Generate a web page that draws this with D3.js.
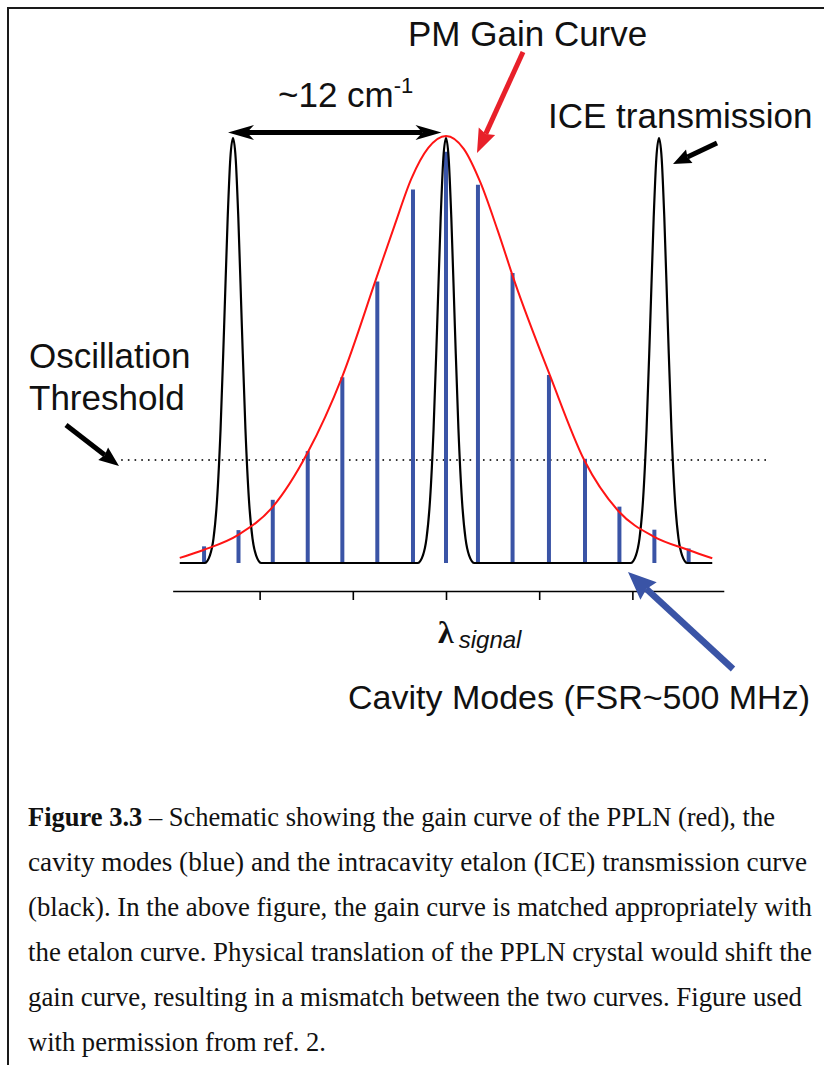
<!DOCTYPE html>
<html>
<head>
<meta charset="utf-8">
<script src="https://cdn.jsdelivr.net/npm/d3@7"></script>
<style>
  html, body { margin: 0; padding: 0; background: #fff; }
  svg { display: block; }
</style>
</head>
<body>
<svg id="fig" width="824" height="1065"></svg>
<script>
// Relative wavenumber (cm^-1) measured from the signal wavelength; heights are relative gain.

// PM gain curve of the PPLN
const gainX = [-15, -13.7, -11.7, -9.75, -7.8, -5.85, -3.9, -2.9, -1.95, -1, 0, 1, 1.95, 2.9, 3.9, 5.85, 7.8, 9.75, 11.7, 13.7, 15];
const gainY = [0.012, 0.03, 0.066, 0.132, 0.258, 0.436, 0.67, 0.79, 0.9, 0.972, 1.0, 0.97, 0.89, 0.78, 0.655, 0.44, 0.24, 0.12, 0.062, 0.03, 0.011];

// Cavity modes
const modeX = [-13.63, -11.69, -9.76, -7.79, -5.84, -3.87, -1.86, 0, 1.8, 3.75, 5.8, 7.83, 9.77, 11.74, 13.67];
const modeH = [0.039, 0.077, 0.148, 0.262, 0.435, 0.659, 0.875, 0.963, 0.886, 0.679, 0.44, 0.244, 0.132, 0.078, 0.034];

// Intracavity etalon transmission (three orders, ~12 cm^-1 apart)
const iceX = [-15, -13.6, -13.3, -13.1, -12.9, -12.7, -12.5, -12.3, -12.15, -12, -11.85, -11.7, -11.5, -11.3, -11.1, -10.9, -10.7, -10.4,
              -1.6, -1.3, -1.1, -0.9, -0.7, -0.5, -0.3, -0.15, 0, 0.15, 0.3, 0.5, 0.7, 0.9, 1.1, 1.3, 1.6,
              10.4, 10.7, 10.9, 11.1, 11.3, 11.5, 11.7, 11.85, 12, 12.15, 12.3, 12.5, 12.7, 12.9, 13.1, 13.3, 13.6, 15];
const iceY = [0, 0, 0.018, 0.057, 0.147, 0.314, 0.554, 0.808, 0.948, 0.995, 0.948, 0.808, 0.554, 0.314, 0.147, 0.057, 0.018, 0,
              0, 0.018, 0.057, 0.147, 0.314, 0.554, 0.808, 0.948, 0.995, 0.948, 0.808, 0.554, 0.314, 0.147, 0.057, 0.018, 0,
              0, 0.018, 0.057, 0.147, 0.314, 0.554, 0.808, 0.948, 0.995, 0.948, 0.808, 0.554, 0.314, 0.147, 0.057, 0.018, 0, 0];

// Oscillation threshold level and its drawn extent
const thresholdLevel = 0.241;
const thresholdSpan = [-18.3, 18.25];

// Wavelength axis
const axisSpan = [-15.4, 15.65];
const axisTicks = [-10.5, -5.25, 0, 5.25, 10.5];

// Caption: text runs (bold flag) and the width each set line occupies
const captionLines = [
  [["Figure 3.3", true], [" \u2013 Schematic showing the gain curve of the PPLN (red), the", false]],
  [["cavity modes (blue) and the intracavity etalon (ICE) transmission curve", false]],
  [["(black). In the above figure, the gain curve is matched appropriately with", false]],
  [["the etalon curve. Physical translation of the PPLN crystal would shift the", false]],
  [["gain curve, resulting in a mismatch between the two curves. Figure used", false]],
  [["with permission from ref. 2.", false]]
];
const captionWidths = [747, 779, 784, 784, 774, 298];

const RED = "#ff1414", BLUE = "#3a54a6", INK = "#000";
const SANS = "'Liberation Sans', Arial, Helvetica, sans-serif";
const SERIF = "'Liberation Serif', 'Times New Roman', serif";

const svg = d3.select("#fig");
const x = d3.scaleLinear().domain([-15, 15]).range([179.75, 712.25]);
const y = d3.scaleLinear().domain([0, 1]).range([563, 136]);

// page frame
svg.append("path")
  .attr("d", "M8,1065 V8 H824")
  .attr("fill", "none").attr("stroke", "#1a1a1a").attr("stroke-width", 2);

// axis
const axisScale = x.copy().domain(axisSpan).range(axisSpan.map(x));
const axisG = svg.append("g")
  .attr("transform", "translate(0,591)")
  .call(d3.axisBottom(axisScale).tickValues(axisTicks).tickFormat("").tickSizeInner(9).tickSizeOuter(0));
axisG.select(".domain").attr("stroke", INK).attr("stroke-width", 1.6);
axisG.selectAll(".tick line").attr("stroke", INK).attr("stroke-width", 1.6);

// threshold
svg.append("line")
  .attr("x1", x(thresholdSpan[0])).attr("x2", x(thresholdSpan[1]))
  .attr("y1", y(thresholdLevel)).attr("y2", y(thresholdLevel))
  .attr("stroke", "#333").attr("stroke-width", 2)
  .attr("stroke-dasharray", "1.6 5.1");

// cavity modes
svg.append("g").selectAll("line")
  .data(modeX.map((v, i) => ({ x: v, h: modeH[i] })))
  .join("line")
  .attr("x1", d => x(d.x)).attr("x2", d => x(d.x))
  .attr("y1", y(0)).attr("y2", d => y(d.h))
  .attr("stroke", BLUE).attr("stroke-width", 4);

// etalon transmission
const line = d3.line().x(d => x(d[0])).y(d => y(d[1])).curve(d3.curveMonotoneX);
svg.append("path")
  .attr("d", line(iceX.map((v, i) => [v, iceY[i]])))
  .attr("fill", "none").attr("stroke", INK).attr("stroke-width", 2.2);

// gain curve
svg.append("path")
  .attr("d", line(gainX.map((v, i) => [v, gainY[i]])))
  .attr("fill", "none").attr("stroke", RED).attr("stroke-width", 2);

// arrow helper: shaft plus a notched triangular head at (x2, y2)
function arrowHead(g, x1, y1, x2, y2, color, len, halfW, notch) {
  const a = Math.atan2(y2 - y1, x2 - x1);
  const ux = Math.cos(a), uy = Math.sin(a), px = -uy, py = ux;
  const bx = x2 - ux * len, by = y2 - uy * len;
  const nx = x2 - ux * (len - notch), ny = y2 - uy * (len - notch);
  g.append("path")
    .attr("d", `M${x2},${y2} L${bx + px * halfW},${by + py * halfW} L${nx},${ny} L${bx - px * halfW},${by - py * halfW} Z`)
    .attr("fill", color);
  return [nx, ny];
}
function arrow(x1, y1, x2, y2, color, width, len, halfW, notch, both) {
  const g = svg.append("g");
  const end = arrowHead(g, x1, y1, x2, y2, color, len, halfW, notch);
  const start = both ? arrowHead(g, x2, y2, x1, y1, color, len, halfW, notch) : [x1, y1];
  g.insert("line", ":first-child")
    .attr("x1", start[0]).attr("y1", start[1]).attr("x2", end[0]).attr("y2", end[1])
    .attr("stroke", color).attr("stroke-width", width);
}

// ~12 cm^-1 spacing between etalon orders
arrow(x(-12) - 5, 132.5, x(0) - 4.5, 132.5, INK, 5, 26, 7.5, 7, true);
// gain curve pointer
arrow(523, 52, 477, 153, "#e8202a", 5, 24, 9, 3, false);
// etalon pointer
arrow(717, 143, 673, 164, INK, 5, 18, 7.5, 2, false);
// threshold pointer
arrow(66, 425, 119, 466, INK, 5, 20, 8, 2, false);
// cavity modes pointer
arrow(733, 669, 628, 572, BLUE, 6.5, 28, 12, 3, false);

// labels
function label(txt, lx, ly, size) {
  return svg.append("text").attr("x", lx).attr("y", ly)
    .attr("font-family", SANS).attr("font-size", size).attr("fill", "#111").text(txt);
}
label("PM Gain Curve", 408, 46, 35);
const spacing = label("~12 cm", 278, 107, 35);
spacing.append("tspan").attr("font-size", 22).attr("dy", -14).text("-1");
label("ICE transmission", 548, 128, 35);
label("Oscillation", 29, 368, 35);
label("Threshold", 29, 410, 35);
label("Cavity Modes (FSR~500 MHz)", 348, 709, 34);

// axis title
const lam = svg.append("text").attr("x", x(0) - 8).attr("y", 643).attr("fill", "#111");
lam.append("tspan").attr("font-family", SERIF).attr("font-weight", "bold").attr("font-size", 32).text("\u03bb");
lam.append("tspan").attr("font-family", SANS).attr("font-style", "italic").attr("font-size", 24)
  .attr("dx", 5).attr("dy", 5).text("signal");

// caption
const cap = svg.append("g").attr("font-family", SERIF).attr("font-size", 26.5).attr("fill", "#111");
captionLines.forEach((parts, i) => {
  const t = cap.append("text").attr("x", 28).attr("y", 826 + i * 45)
    .attr("textLength", captionWidths[i]).attr("lengthAdjust", "spacingAndGlyphs");
  parts.forEach(([s, bold]) => {
    t.append("tspan").attr("font-weight", bold ? "bold" : null).text(s);
  });
});
</script>
</body>
</html>
